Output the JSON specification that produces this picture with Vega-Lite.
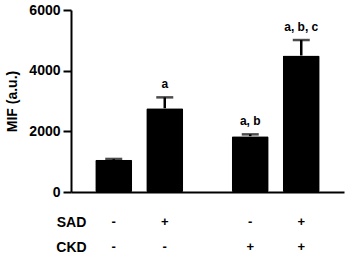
{
  "$schema": "https://vega.github.io/schema/vega-lite/v6.json",
  "padding": {"left": 5, "top": 3, "right": 2, "bottom": 0},
  "background": "white",
  "config": {
    "view": {"stroke": null},
    "font": "Liberation Sans",
    "axis": {"labelFont": "Liberation Sans", "titleFont": "Liberation Sans", "labelColor": "black", "titleColor": "black", "domainColor": "black", "tickColor": "black"}
  },
  "data": {
    "values": [
      {"SAD": "-", "CKD": "-", "value": 1060, "upper": 1090, "label": ""},
      {"SAD": "+", "CKD": "-", "value": 2760, "upper": 3120, "label": "a"},
      {"SAD": "-", "CKD": "+", "value": 1840, "upper": 1900, "label": "a, b"},
      {"SAD": "+", "CKD": "+", "value": 4500, "upper": 5010, "label": "a, b, c"}
    ]
  },
  "spacing": 16,
  "vconcat": [
    {
      "width": 273,
      "height": 182,
      "encoding": {
        "x": {"field": "CKD", "type": "nominal", "sort": ["-", "+"], "scale": {"paddingInner": 0.3, "paddingOuter": 0.15},
          "axis": {"labels": false, "ticks": false, "title": null, "domainWidth": 2}},
        "xOffset": {"field": "SAD", "type": "nominal", "sort": ["-", "+"], "scale": {"paddingInner": 0.275, "paddingOuter": 0.074}}
      },
      "layer": [
        {
          "mark": {"type": "rule", "strokeWidth": 2.5, "color": "black"},
          "encoding": {
            "y": {"field": "value", "type": "quantitative"},
            "y2": {"field": "upper"}
          }
        },
        {
          "mark": {"type": "tick", "thickness": 2.5, "size": 17, "color": "black"},
          "encoding": {
            "y": {"field": "upper", "type": "quantitative"}
          }
        },
        {
          "mark": {"type": "bar", "color": "black", "cornerRadius": 1.5},
          "encoding": {
            "y": {"field": "value", "type": "quantitative",
              "scale": {"domain": [0, 6000], "nice": false},
              "axis": {"values": [0, 2000, 4000, 6000], "format": "d", "title": "MIF (a.u.)", "titleFontSize": 14, "titleFontWeight": "bold", "titlePadding": 9,
                "labelFontSize": 14, "labelFontWeight": "bold", "labelPadding": 3, "tickSize": 8, "tickWidth": 2, "domainWidth": 2, "grid": false}}
          }
        },
        {
          "mark": {"type": "text", "baseline": "bottom", "dy": -6, "fontSize": 12, "fontWeight": "bold", "color": "black"},
          "encoding": {
            "y": {"field": "upper", "type": "quantitative"},
            "text": {"field": "label"}
          }
        }
      ]
    },
    {
      "width": 273,
      "height": 25,
      "transform": [{"fold": ["SAD", "CKD"], "as": ["factor", "sign"]}],
      "mark": {"type": "text", "fontSize": 13, "fontWeight": "bold", "color": "black", "baseline": "middle"},
      "encoding": {
        "x": {"field": "CKD", "type": "nominal", "sort": ["-", "+"], "scale": {"paddingInner": 0.3, "paddingOuter": 0.15}, "axis": null},
        "xOffset": {"field": "SAD", "type": "nominal", "sort": ["-", "+"], "scale": {"paddingInner": 0.275, "paddingOuter": 0.074}},
        "y": {"field": "factor", "type": "nominal", "sort": ["SAD", "CKD"], "scale": {"type": "point", "padding": 0},
          "axis": {"domain": false, "ticks": false, "title": null, "labelAlign": "center", "labelPadding": 0, "labelFontSize": 14, "labelFontWeight": "bold"}},
        "text": {"field": "sign"}
      }
    }
  ]
}
